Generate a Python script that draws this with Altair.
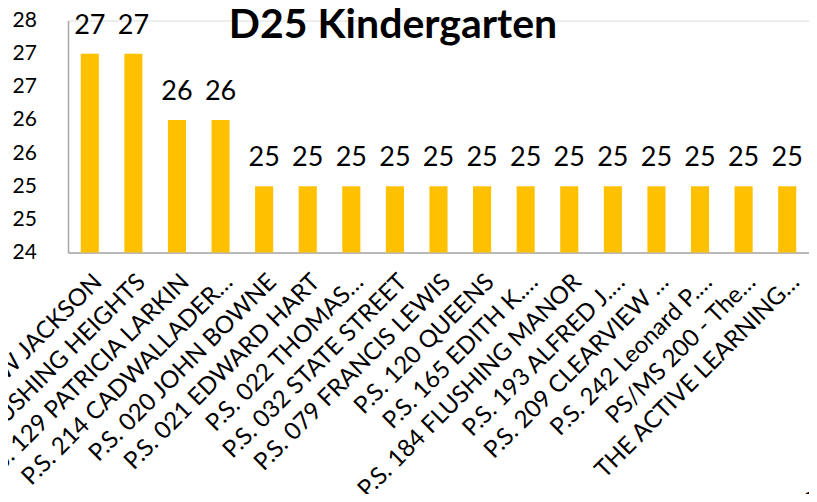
import altair as alt
import pandas as pd

title_text = "D25 Kindergarten"
schools = [
    "P.S. 024 ANDREW JACKSON",
    "P.S. 163 FLUSHING HEIGHTS",
    "P.S. 129 PATRICIA LARKIN",
    "P.S. 214 CADWALLADER…",
    "P.S. 020 JOHN BOWNE",
    "P.S. 021 EDWARD HART",
    "P.S. 022 THOMAS…",
    "P.S. 032 STATE STREET",
    "P.S. 079 FRANCIS LEWIS",
    "P.S. 120 QUEENS",
    "P.S. 165 EDITH K.…",
    "P.S. 184 FLUSHING MANOR",
    "P.S. 193 ALFRED J.…",
    "P.S. 209 CLEARVIEW …",
    "P.S. 242 Leonard P.…",
    "PS/MS 200 - The…",
    "THE ACTIVE LEARNING…",
]
class_size = [27, 27, 26, 26, 25, 25, 25, 25, 25, 25, 25, 25, 25, 25, 25, 25, 25]
y_ticks = [24, 24.5, 25, 25.5, 26, 26.5, 27, 27.5]

df = pd.DataFrame({"school": schools, "size": class_size})
title_df = pd.DataFrame({"t": [title_text]})

FONT = "Lato"
AXIS_GRAY = "#A6A6A6"

x_enc = alt.X(
    "school:N",
    sort=None,
    scale=alt.Scale(paddingInner=0.585, paddingOuter=0.2925),
    axis=alt.Axis(
        title="School",
        titleFont=FONT,
        titleFontSize=22,
        titleFontWeight="normal",
        titleColor="black",
        titleAngle=0,
        titleAlign="left",
        titleBaseline="top",
        titleX=735,
        titleY=237,
        labelAngle=-45,
        labelAlign="right",
        labelBaseline="top",
        labelPadding=17,
        labelFont=FONT,
        labelFontSize=24,
        labelColor="black",
        labelLimit=600,
        labelOverlap=False,
        ticks=False,
        domainColor=AXIS_GRAY,
        domainWidth=1.5,
    ),
)

y_enc = alt.Y(
    "size:Q",
    scale=alt.Scale(domain=[y_ticks[0], y_ticks[-1]], zero=False, nice=False),
    axis=alt.Axis(
        title=None,
        values=y_ticks,
        format=".0f",
        grid=False,
        ticks=False,
        tickSize=0,
        labelAlign="left",
        labelBaseline="middle",
        labelPadding=56,
        labelFont=FONT,
        labelFontSize=21,
        labelColor="black",
        labelOverlap=False,
        labelFlush=False,
        domainColor=AXIS_GRAY,
        domainWidth=1.5,
    ),
)

base = alt.Chart(df).encode(x=x_enc, y=y_enc)

bars = base.mark_bar(color="#FFC000").encode(y2=alt.datum(y_ticks[0]))
labels = base.mark_text(
    dy=-20, baseline="alphabetic", font=FONT, fontSize=27, color="black"
).encode(text=alt.Text("size:Q", format=".0f"))

title = alt.Chart(title_df).mark_text(
    font=FONT, fontSize=41, fontWeight="bold", color="black",
    align="center", baseline="alphabetic",
).encode(text="t:N", x=alt.value(325), y=alt.value(17.5))

chart = (
    alt.layer(bars, labels, title)
    .properties(
        width=741,
        height=232,
        autosize=alt.AutoSizeParams(type="none"),
        padding={"left": 60, "top": 12.5, "right": 0, "bottom": 241.5},
    )
    .configure_view(stroke=None)
    .configure(background="white")
)

chart.save("out.html", embed_options={"renderer": "svg", "actions": False})
